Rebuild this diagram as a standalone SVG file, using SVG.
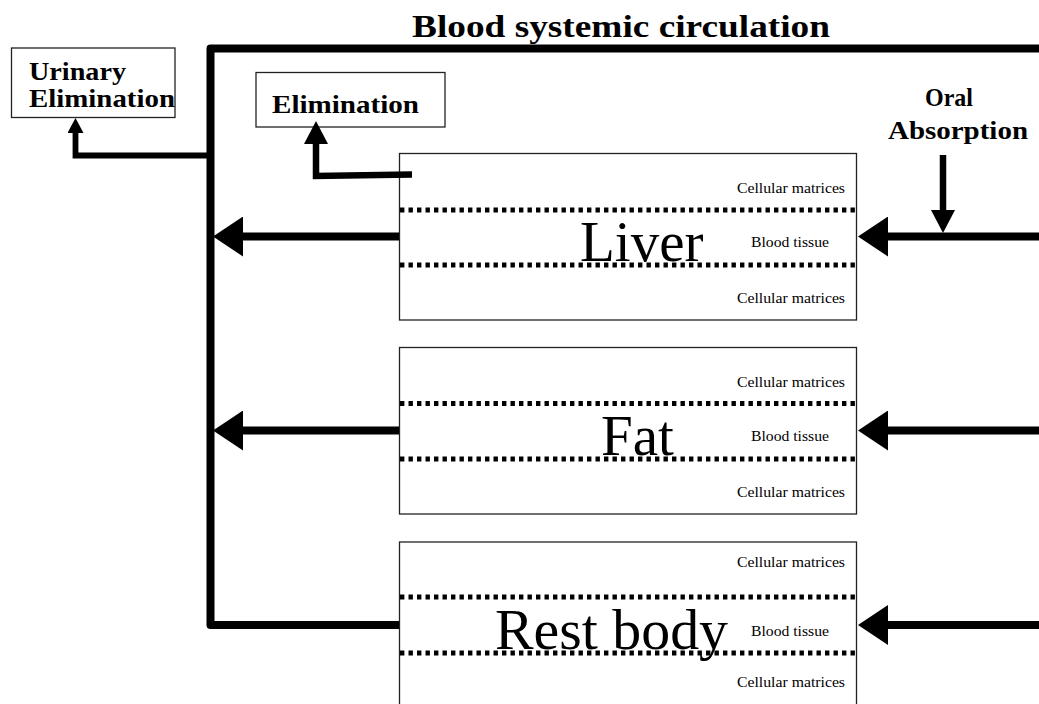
<svg xmlns="http://www.w3.org/2000/svg" width="1039" height="704" viewBox="0 0 1039 704">
<style>
.box{fill:#fff;stroke:#222;stroke-width:1.3}
.dot{stroke:#000;stroke-width:5;stroke-dasharray:4.4 4.1;fill:none}
.big{font-family:"Liberation Serif","Times New Roman",serif;font-size:57px;fill:#000}
.small{font-family:"Liberation Serif","Times New Roman",serif;font-size:14.5px;fill:#000}
.bold{font-family:"Liberation Serif","Times New Roman",serif;font-weight:bold;font-size:25px;fill:#000}
.title{font-family:"Liberation Serif","Times New Roman",serif;font-weight:bold;font-size:32px;fill:#000}
.thick{stroke:#000;stroke-width:8;fill:none}
.mid{stroke:#000;stroke-width:6.5;fill:none}
.thin{stroke:#000;stroke-width:5.8;fill:none}
</style>
<defs>
<marker id="aBig" viewBox="0 0 30 40" refX="0" refY="20" markerWidth="30" markerHeight="40" markerUnits="userSpaceOnUse" orient="auto"><path d="M0,0 L30,20 L0,40 Z" fill="#000"/></marker>
<marker id="aMed" viewBox="0 0 23 24" refX="0" refY="12" markerWidth="23" markerHeight="24" markerUnits="userSpaceOnUse" orient="auto"><path d="M0,0 L23,12 L0,24 Z" fill="#000"/></marker>
<marker id="aSmall" viewBox="0 0 15 16" refX="0" refY="8" markerWidth="15" markerHeight="16" markerUnits="userSpaceOnUse" orient="auto"><path d="M0,0 L15,8 L0,16 Z" fill="#000"/></marker>
</defs>
<rect width="1039" height="704" fill="#fff"/>

<g id="title">
<text class="title" x="412" y="37" textLength="418" lengthAdjust="spacingAndGlyphs">Blood systemic circulation</text>
</g>

<g id="urinary-elimination">
<rect class="box" x="11.5" y="48" width="163.5" height="69.5"/>
<text class="bold" x="29" y="80" textLength="97" lengthAdjust="spacingAndGlyphs">Urinary</text>
<text class="bold" x="29" y="107" textLength="146" lengthAdjust="spacingAndGlyphs">Elimination</text>
</g>

<g id="elimination">
<rect class="box" x="256" y="72.5" width="189" height="54.5"/>
<text class="bold" x="272" y="113" textLength="147" lengthAdjust="spacingAndGlyphs">Elimination</text>
</g>

<g id="oral-absorption">
<text class="bold" x="925" y="106" textLength="48" lengthAdjust="spacingAndGlyphs">Oral</text>
<text class="bold" x="888" y="139" textLength="140" lengthAdjust="spacingAndGlyphs">Absorption</text>
</g>

<g id="liver">
<rect class="box" x="399.5" y="153.5" width="457" height="166.5"/>
<line class="dot" x1="400" y1="210" x2="856" y2="210"/>
<line class="dot" x1="400" y1="265" x2="856" y2="265"/>
<text class="small" x="737" y="193" textLength="108" lengthAdjust="spacingAndGlyphs">Cellular matrices</text>
<text class="small" x="751" y="247" textLength="78" lengthAdjust="spacingAndGlyphs">Blood tissue</text>
<text class="small" x="737" y="303" textLength="108" lengthAdjust="spacingAndGlyphs">Cellular matrices</text>
<text class="big" x="580" y="261">Liver</text>
</g>

<g id="fat">
<rect class="box" x="399.5" y="347.5" width="457" height="166.5"/>
<line class="dot" x1="400" y1="403.5" x2="856" y2="403.5"/>
<line class="dot" x1="400" y1="459" x2="856" y2="459"/>
<text class="small" x="737" y="387" textLength="108" lengthAdjust="spacingAndGlyphs">Cellular matrices</text>
<text class="small" x="751" y="441" textLength="78" lengthAdjust="spacingAndGlyphs">Blood tissue</text>
<text class="small" x="737" y="497" textLength="108" lengthAdjust="spacingAndGlyphs">Cellular matrices</text>
<text class="big" x="601" y="455">Fat</text>
</g>

<g id="rest-body">
<rect class="box" x="399.5" y="542" width="457" height="170"/>
<line class="dot" x1="400" y1="597" x2="856" y2="597"/>
<line class="dot" x1="400" y1="653" x2="856" y2="653"/>
<text class="small" x="737" y="567" textLength="108" lengthAdjust="spacingAndGlyphs">Cellular matrices</text>
<text class="small" x="751" y="636" textLength="78" lengthAdjust="spacingAndGlyphs">Blood tissue</text>
<text class="small" x="737" y="687" textLength="108" lengthAdjust="spacingAndGlyphs">Cellular matrices</text>
<text class="big" x="495" y="649" textLength="233" lengthAdjust="spacingAndGlyphs">Rest body</text>
</g>

<g id="connectors">
<path class="thick" d="M1039,48.5 L210.5,48.5 L210.5,625 L399,625" stroke-linejoin="round"/>
<path class="thick" d="M399,236.5 L243,236.5" marker-end="url(#aBig)"/>
<path class="thick" d="M399,430.5 L243,430.5" marker-end="url(#aBig)"/>
<path class="thick" d="M1039,236.5 L888,236.5" marker-end="url(#aBig)"/>
<path class="thick" d="M1039,430.5 L888,430.5" marker-end="url(#aBig)"/>
<path class="thick" d="M1039,625 L888,625" marker-end="url(#aBig)"/>
<path class="mid" d="M943,155 L943,210" marker-end="url(#aMed)"/>
<path class="thin" d="M210,155.5 L75.5,155.5 L75.5,133" marker-end="url(#aSmall)"/>
<path class="mid" d="M412,174.5 L316,176 L316,144" marker-end="url(#aMed)"/>
</g>
</svg>
